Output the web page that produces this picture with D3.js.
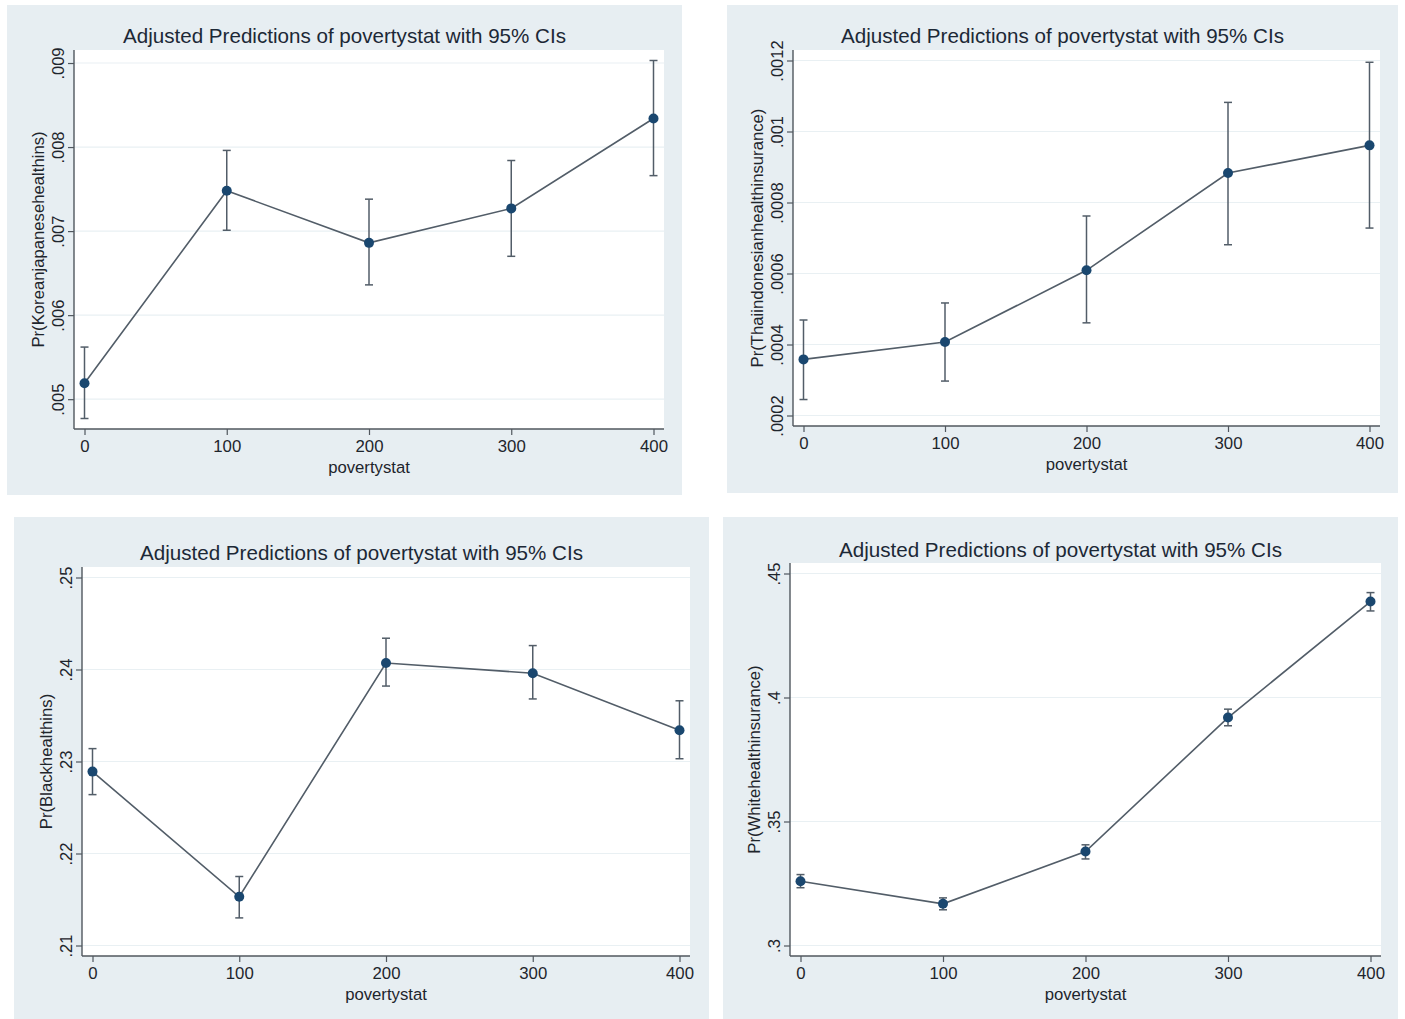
<!DOCTYPE html>
<html>
<head>
<meta charset="utf-8">
<script src="https://cdn.jsdelivr.net/npm/d3@7"></script>
<style>
  html, body { margin: 0; padding: 0; background: #ffffff; }
  svg { display: block; font-family: "Liberation Sans", Arial, Helvetica, sans-serif; }
</style>
</head>
<body>
<svg id="chart" width="1405" height="1019"></svg>
<script>
// Poverty-status levels shared by every panel
const povertyLevels = [0, 100, 200, 300, 400];
const xTickValues = [0, 100, 200, 300, 400];
const xTickLabels = ["0", "100", "200", "300", "400"];

// Pr(Koreanjapanesehealthins)
const koreanEst = [0.00519, 0.00748, 0.00686, 0.00727, 0.00834];
const koreanLo  = [0.00477, 0.00701, 0.00636, 0.00670, 0.00766];
const koreanHi  = [0.00562, 0.00796, 0.00738, 0.00784, 0.00903];
const koreanTicks = [0.005, 0.006, 0.007, 0.008, 0.009];
const koreanTickLabels = [".005", ".006", ".007", ".008", ".009"];

// Pr(Thaiindonesianhealthinsurance)
const thaiEst = [0.000358, 0.000407, 0.000609, 0.000883, 0.000961];
const thaiLo  = [0.000245, 0.000297, 0.000461, 0.000681, 0.000728];
const thaiHi  = [0.000469, 0.000517, 0.000762, 0.001082, 0.001195];
const thaiTicks = [0.0002, 0.0004, 0.0006, 0.0008, 0.001, 0.0012];
const thaiTickLabels = [".0002", ".0004", ".0006", ".0008", ".001", ".0012"];

// Pr(Blackhealthins)
const blackEst = [0.2289, 0.2153, 0.2407, 0.2396, 0.2334];
const blackLo  = [0.2264, 0.2130, 0.2382, 0.2368, 0.2303];
const blackHi  = [0.2314, 0.2175, 0.2434, 0.2426, 0.2366];
const blackTicks = [0.21, 0.22, 0.23, 0.24, 0.25];
const blackTickLabels = [".21", ".22", ".23", ".24", ".25"];

// Pr(Whitehealthinsurance)
const whiteEst = [0.3259, 0.3168, 0.3379, 0.3919, 0.4387];
const whiteLo  = [0.3233, 0.3144, 0.3349, 0.3886, 0.4349];
const whiteHi  = [0.3286, 0.3192, 0.3406, 0.3953, 0.4423];
const whiteTicks = [0.30, 0.35, 0.40, 0.45];
const whiteTickLabels = [".3", ".35", ".4", ".45"];

const chartTitle = "Adjusted Predictions of povertystat with 95% CIs";
const xAxisTitle = "povertystat";

// Panel definitions: data plus where each graph sits on the page
const panels = [
  { yTitle: "Pr(Koreanjapanesehealthins)", est: koreanEst, lo: koreanLo, hi: koreanHi,
    ticks: koreanTicks, tickLabels: koreanTickLabels,
    bg: [7, 5, 682, 495], plot: [74, 50, 664, 429], titleY: 43 },
  { yTitle: "Pr(Thaiindonesianhealthinsurance)", est: thaiEst, lo: thaiLo, hi: thaiHi,
    ticks: thaiTicks, tickLabels: thaiTickLabels,
    bg: [727, 5, 1398, 493], plot: [793, 50, 1380, 426], titleY: 43 },
  { yTitle: "Pr(Blackhealthins)", est: blackEst, lo: blackLo, hi: blackHi,
    ticks: blackTicks, tickLabels: blackTickLabels,
    bg: [14, 517, 709, 1019], plot: [82, 567, 690, 956], titleY: 560 },
  { yTitle: "Pr(Whitehealthinsurance)", est: whiteEst, lo: whiteLo, hi: whiteHi,
    ticks: whiteTicks, tickLabels: whiteTickLabels,
    bg: [723, 517, 1398, 1019], plot: [790, 563, 1381, 956], titleY: 557 }
];

const style = {
  graphBg: "#e7eef2",
  plotBg: "#ffffff",
  grid: "#e9f0f3",
  axis: "#50575e",
  text: "#1e252c",
  title: "#1c2836",
  line: "#525d68",
  marker: "#1a476f",
  inset: 10.5
};

const svg = d3.select("#chart");

panels.forEach(p => {
  const [bx0, by0, bx1, by1] = p.bg;
  const [px0, py0, px1, py1] = p.plot;
  const g = svg.append("g");

  // graph region and plot region
  g.append("rect").attr("x", bx0).attr("y", by0)
    .attr("width", bx1 - bx0).attr("height", by1 - by0)
    .attr("fill", style.graphBg);
  g.append("rect").attr("x", px0).attr("y", py0)
    .attr("width", px1 - px0).attr("height", py1 - py0)
    .attr("fill", style.plotBg);

  const x = d3.scaleLinear()
    .domain(d3.extent(povertyLevels.concat(xTickValues)))
    .range([px0 + style.inset, px1 - style.inset]);
  const yMin = d3.min(p.lo.concat(p.ticks));
  const yMax = d3.max(p.hi.concat(p.ticks));
  const y = d3.scaleLinear()
    .domain([yMin, yMax])
    .range([py1 - style.inset, py0 + style.inset]);

  // horizontal gridlines
  g.append("g").selectAll("line").data(p.ticks).join("line")
    .attr("x1", px0).attr("x2", px1)
    .attr("y1", d => y(d)).attr("y2", d => y(d))
    .attr("stroke", style.grid).attr("stroke-width", 1.2);

  // y axis with rotated labels
  const yAxis = d3.axisLeft(y).tickValues(p.ticks)
    .tickFormat((d, i) => p.tickLabels[i]).tickSize(6).tickSizeOuter(0);
  const yg = g.append("g").attr("transform", `translate(${px0},0)`).call(yAxis);
  yg.select(".domain").remove();
  yg.selectAll(".tick line").attr("stroke", style.axis).attr("stroke-width", 1.2);
  yg.selectAll(".tick text")
    .attr("x", null).attr("dy", null)
    .attr("transform", "translate(-10,0) rotate(-90)")
    .attr("text-anchor", "middle")
    .attr("fill", style.text)
    .style("font-size", "16.5px");
  g.append("line").attr("x1", px0).attr("x2", px0).attr("y1", py0).attr("y2", py1)
    .attr("stroke", style.axis).attr("stroke-width", 1.4);

  // x axis
  const xAxis = d3.axisBottom(x).tickValues(xTickValues)
    .tickFormat((d, i) => xTickLabels[i]).tickSize(6).tickSizeOuter(0);
  const xg = g.append("g").attr("transform", `translate(0,${py1})`).call(xAxis);
  xg.select(".domain").remove();
  xg.selectAll(".tick line").attr("stroke", style.axis).attr("stroke-width", 1.2);
  xg.selectAll(".tick text")
    .attr("y", 23).attr("dy", null)
    .attr("fill", style.text)
    .style("font-size", "16.8px");
  g.append("line").attr("x1", px0).attr("x2", px1).attr("y1", py1).attr("y2", py1)
    .attr("stroke", style.axis).attr("stroke-width", 1.4);

  // titles
  g.append("text").attr("x", (bx0 + bx1) / 2).attr("y", p.titleY)
    .attr("text-anchor", "middle").attr("fill", style.title)
    .style("font-size", "20.6px").text(chartTitle);
  g.append("text").attr("x", (px0 + px1) / 2).attr("y", py1 + 44)
    .attr("text-anchor", "middle").attr("fill", style.text)
    .style("font-size", "16.7px").text(xAxisTitle);
  g.append("text")
    .attr("transform", `translate(${px0 - 30},${(py0 + py1) / 2}) rotate(-90)`)
    .attr("text-anchor", "middle").attr("fill", style.text)
    .style("font-size", "16.7px").text(p.yTitle);

  const rows = povertyLevels.map((lvl, i) => ({ lvl, est: p.est[i], lo: p.lo[i], hi: p.hi[i] }));

  // confidence intervals with caps
  const ci = g.append("g").attr("stroke", style.line).attr("stroke-width", 1.5);
  ci.selectAll("line.bar").data(rows).join("line").attr("class", "bar")
    .attr("x1", d => x(d.lvl)).attr("x2", d => x(d.lvl))
    .attr("y1", d => y(d.lo)).attr("y2", d => y(d.hi));
  ci.selectAll("line.capHi").data(rows).join("line").attr("class", "capHi")
    .attr("x1", d => x(d.lvl) - 4).attr("x2", d => x(d.lvl) + 4)
    .attr("y1", d => y(d.hi)).attr("y2", d => y(d.hi));
  ci.selectAll("line.capLo").data(rows).join("line").attr("class", "capLo")
    .attr("x1", d => x(d.lvl) - 4).attr("x2", d => x(d.lvl) + 4)
    .attr("y1", d => y(d.lo)).attr("y2", d => y(d.lo));

  // connecting line
  g.append("path").datum(rows)
    .attr("fill", "none").attr("stroke", style.line).attr("stroke-width", 1.6)
    .attr("d", d3.line().x(d => x(d.lvl)).y(d => y(d.est)));

  // point estimates
  g.append("g").selectAll("circle").data(rows).join("circle")
    .attr("cx", d => x(d.lvl)).attr("cy", d => y(d.est))
    .attr("r", 5).attr("fill", style.marker);
});
</script>
</body>
</html>
